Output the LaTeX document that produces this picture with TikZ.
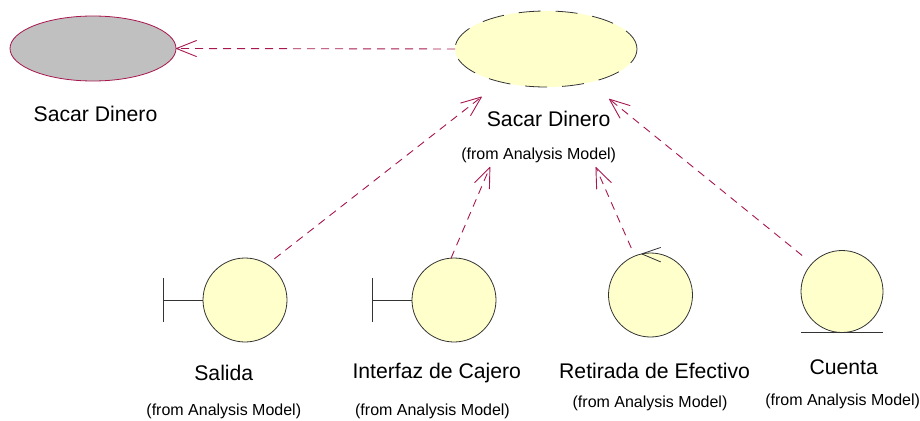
\documentclass[tikz,border=0pt]{standalone}
\usepackage{fontspec}
\setmainfont{Liberation Sans}
\usetikzlibrary{arrows.meta, shapes.geometric}
\definecolor{deplinecol}{HTML}{A8174F}
\definecolor{paleyellow}{HTML}{FFFFCC}
\definecolor{casegray}{HTML}{C0C0C0}

\begin{document}
\begin{tikzpicture}[x=1pt, y=-1pt,
	usecase/.style={ellipse, inner sep=0pt, outer sep=0pt},
	analysis/.style={circle, draw=black!80, fill=paleyellow, line width=.8pt, inner sep=0pt, outer sep=0pt},
	dep/.style={deplinecol, line width=.9pt, dash pattern=on 8pt off 6pt, -{Straight Barb[length=20pt, width=16pt, line width=.9pt, round=false, sep=0pt]}},
	nametxt/.style={font=\fontsize{21.2}{24}\selectfont, inner sep=0pt},
	fromtxt/.style={font=\fontsize{16}{19}\selectfont, inner sep=0pt}]
	\useasboundingbox (0,0) rectangle (920,420);

	%%%% use cases
	\node[usecase, draw=deplinecol, fill=casegray, line width=.8pt, minimum width=166pt, minimum height=65pt] (negocio) at (93,48.5) {};
	\node[usecase, fill=paleyellow, draw=black!80, line width=.8pt, dash pattern=on 22pt off 15pt, minimum width=182pt, minimum height=76pt] (analisis) at (546,49) {};

	\node[nametxt] (negociotxt) at (95.5,114) {Sacar Dinero};
	\node[nametxt] (analisistxt) at (548.7,119) {Sacar Dinero};
	\node[fromtxt] (analisisfrom) at (538.7,155) {(from Analysis Model)};

	%%%% analysis classes
	\node[analysis, minimum size=84pt] (salida) at (245,300) {};
	\node[analysis, minimum size=84pt] (interfaz) at (454,300) {};
	\node[analysis, minimum size=84pt] (retirada) at (650.5,295) {};
	\node[analysis, minimum size=82pt] (cuenta) at (842,291.5) {};

	%%% boundary marks
	\draw[black!80, line width=.8pt] (salida.west) -- ++(-40,0) ++(0,-22) -- ++(0,44);
	\draw[black!80, line width=.8pt] (interfaz.west) -- ++(-40,0) ++(0,-22) -- ++(0,44);
	%%% control mark
	\draw[black!80, line width=.8pt] (retirada.102) -- ++(19,-6.5);
	\draw[black!80, line width=.8pt] (retirada.102) -- ++(19,8);
	%%% entity mark
	\draw[black!80, line width=.8pt] (cuenta.south) ++(-41,0) -- ++(82,0);

	\node[nametxt] (salidatxt) at (223.8,373) {Salida};
	\node[nametxt] (interfaztxt) at (436.8,373) {Interfaz de Cajero};
	\node[nametxt] (retiradatxt) at (654.6,371) {Retirada de Efectivo};
	\node[nametxt] (cuentatxt) at (843.7,367) {Cuenta};

	\node[fromtxt] (salidafrom) at (223.8,411) {(from Analysis Model)};
	\node[fromtxt] (interfazfrom) at (432.5,411) {(from Analysis Model)};
	\node[fromtxt] (retiradafrom) at (650,403) {(from Analysis Model)};
	\node[fromtxt] (cuentafrom) at (842.6,401) {(from Analysis Model)};

	%%%% dependencies
	\draw[dep] (analisis.west) -- (negocio.east);
	\draw[dep, shorten <=9pt, shorten >=24pt] (salida.58) -- (analisis.216.3);
	\draw[dep, shorten >=88pt] (interfaz.94) -- (analisis.240.4);
	\draw[dep, shorten <=8.7pt, shorten >=88pt] (retirada.112.3) -- (analisis.291.8);
	\draw[dep, shorten <=12.8pt, shorten >=26pt] (cuenta.137.5) -- (analisis.322.3);
\end{tikzpicture}
\end{document}
